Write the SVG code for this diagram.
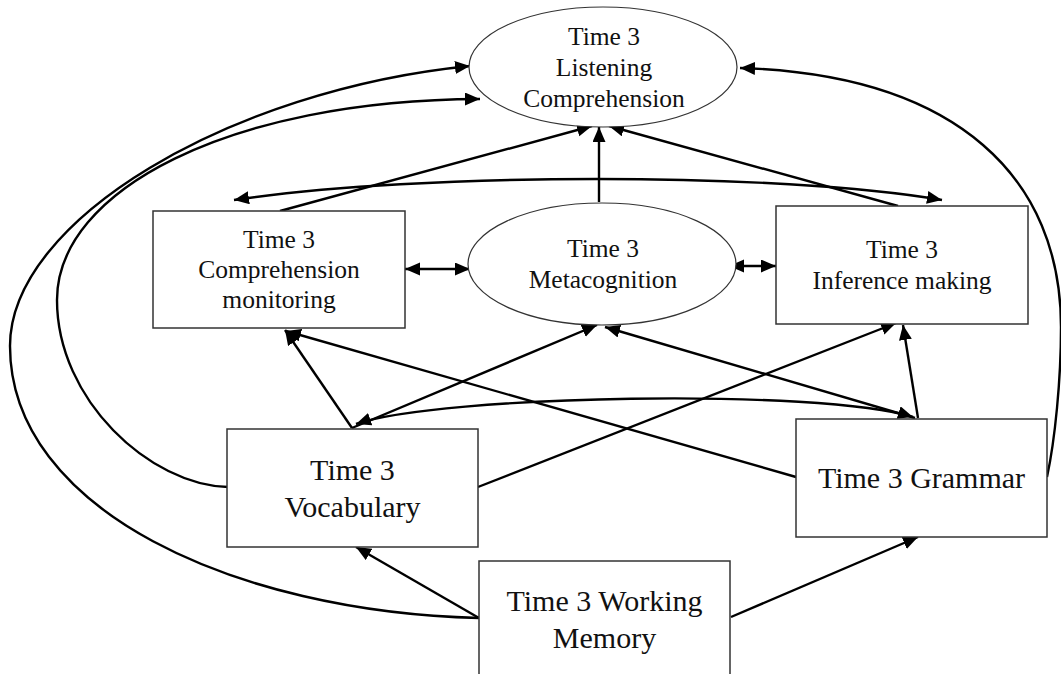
<svg xmlns="http://www.w3.org/2000/svg" width="1061" height="674" viewBox="0 0 1061 674">
  <defs>
    <marker id="arrow" markerUnits="userSpaceOnUse" markerWidth="16" markerHeight="14" refX="15" refY="6.5" orient="auto-start-reverse" viewBox="0 0 16 14">
      <path d="M0,0 L15,6.5 L0,13 z" fill="#000"/>
    </marker>
  </defs>
  <style>
    .node-box { fill: #fff; stroke: #333; stroke-width: 1.5; }
    .node-ell { fill: #fff; stroke: #333; stroke-width: 1.2; }
    .label { font-family: "Liberation Serif", "Times New Roman", serif; fill: #111; text-anchor: middle; }
    .sm { font-size: 25.5px; }
    .lg { font-size: 30px; }
    .edge { fill: none; stroke: #000; stroke-width: 2.4; marker-end: url(#arrow); }
    .both { marker-start: url(#arrow); }
  </style>

  <rect width="1061" height="674" fill="#fff"/>

  <!-- connectors -->
  <g id="connectors">
    <!-- long paths around the outside into listening comprehension -->
    <path class="edge" d="M479,618 C235,612 10,510 10,346 C10,220 230,90 470,66"/>
    <path class="edge" d="M228,487 C150,485 57,400 57,300 C57,190 230,100 480,99"/>
    <path class="edge" d="M1047,477 C1055,440 1061,380 1061,327 C1061,180 960,75 740,68"/>

    <!-- into listening comprehension from the middle tier -->
    <path class="edge" d="M280,211 L592,126"/>
    <path class="edge" d="M599,202 L599,127"/>
    <path class="edge" d="M898,206 L609,126"/>

    <!-- correlations in the middle tier -->
    <path class="edge both" d="M234,200 C420,172 780,172 942,200"/>
    <path class="edge both" d="M405,269 L470,269"/>
    <path class="edge both" d="M729,266 L776,266"/>

    <!-- vocabulary and grammar into the middle tier -->
    <path class="edge" d="M352,428 L285,330"/>
    <path class="edge" d="M796,477 L286,331"/>
    <path class="edge" d="M352,428 L597,325"/>
    <path class="edge" d="M915,418 L605,327"/>
    <path class="edge" d="M478,487 L896,323"/>
    <path class="edge" d="M918,418 L903,325"/>
    <path class="edge both" d="M356,424 C440,395 820,388 913,417"/>

    <!-- working memory into vocabulary and grammar -->
    <path class="edge" d="M479,618 L356,547"/>
    <path class="edge" d="M731,617 L918,537"/>
  </g>

  <g id="listening">
    <ellipse class="node-ell" cx="603" cy="67" rx="134" ry="60"/>
    <text class="label sm" x="604" y="45">Time 3</text>
    <text class="label sm" x="604" y="76">Listening</text>
    <text class="label sm" x="604" y="107">Comprehension</text>
  </g>

  <g id="monitoring">
    <rect class="node-box" x="153" y="211" width="252" height="117"/>
    <text class="label sm" x="279" y="248">Time 3</text>
    <text class="label sm" x="279" y="278">Comprehension</text>
    <text class="label sm" x="279" y="308">monitoring</text>
  </g>

  <g id="metacognition">
    <ellipse class="node-ell" cx="602" cy="264" rx="134" ry="61"/>
    <text class="label sm" x="603" y="257">Time 3</text>
    <text class="label sm" x="603" y="288">Metacognition</text>
  </g>

  <g id="inference">
    <rect class="node-box" x="776" y="206" width="252" height="118"/>
    <text class="label sm" x="902" y="258">Time 3</text>
    <text class="label sm" x="902" y="289">Inference making</text>
  </g>

  <g id="vocabulary">
    <rect class="node-box" x="227" y="429" width="251" height="118"/>
    <text class="label lg" x="352.5" y="480">Time 3</text>
    <text class="label lg" x="352.5" y="517">Vocabulary</text>
  </g>

  <g id="grammar">
    <rect class="node-box" x="796" y="419" width="251" height="118"/>
    <text class="label lg" x="921.5" y="488">Time 3 Grammar</text>
  </g>

  <g id="working-memory">
    <rect class="node-box" x="479" y="561" width="251" height="130"/>
    <text class="label lg" x="604.5" y="611">Time 3 Working</text>
    <text class="label lg" x="604.5" y="648">Memory</text>
  </g>
</svg>
